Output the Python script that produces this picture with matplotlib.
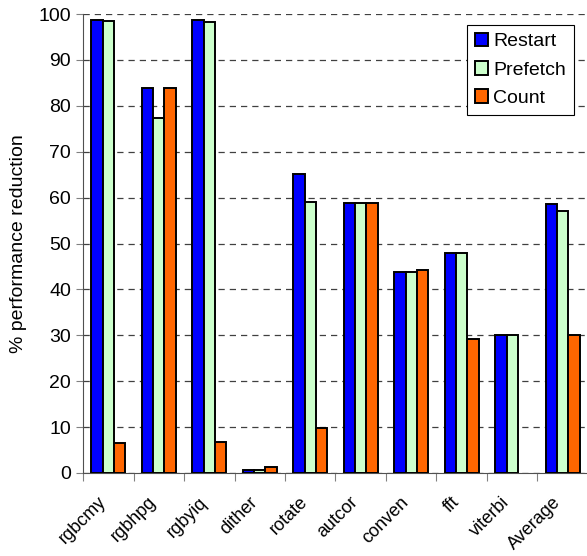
import matplotlib.pyplot as plt
import matplotlib.transforms as mtransforms
import numpy as np

plt.rcParams['font.family'] = ['Liberation Sans', 'DejaVu Sans']

categories = ["rgbcmy", "rgbhpg", "rgbyiq", "dither", "rotate",
              "autcor", "conven", "fft", "viterbi", "Average"]
restart = [98.8, 83.8, 98.8, 0.6, 65.1, 58.8, 43.8, 47.9, 30.0, 58.6]
prefetch = [98.5, 77.3, 98.3, 0.6, 59.0, 58.8, 43.8, 47.9, 30.0, 57.1]
count = [6.6, 83.8, 6.8, 1.4, 9.9, 58.8, 44.3, 29.1, np.nan, 30.0]

series = [("Restart", restart, "#0000FF"),
          ("Prefetch", prefetch, "#CCFFCC"),
          ("Count", count, "#FF6600")]

fig = plt.figure(figsize=(5.87, 5.56), dpi=100)
ax = fig.add_axes([0.1414, 0.1493, 0.8603, 0.8255])

x = np.arange(len(categories))
w = 0.225
for i, (name, vals, col) in enumerate(series):
    ax.bar(x + (i - 1) * w, vals, w, color=col, edgecolor="black",
           linewidth=1.4, label=name, zorder=3)

ax.set_xlim(-0.5, len(categories) - 0.5)
ax.set_ylim(0, 100)
ax.set_yticks(range(0, 101, 10))
ax.set_xticks(np.arange(len(categories) + 1) - 0.5)
ax.set_xticklabels([])
ax.set_xticks(x, minor=True)
ax.set_xticklabels(categories, minor=True, rotation=45, ha="right",
                   rotation_mode="anchor", fontsize=13)
ax.tick_params(axis="x", which="minor", length=0, pad=12)
ax.tick_params(axis="x", which="major", length=6, color="#808080")
ax.tick_params(axis="y", length=5, labelsize=14, color="#808080")

# shift the rotated labels a bit left and down, like the original
offset = mtransforms.ScaledTranslation(-11 / 100, -4 / 100, fig.dpi_scale_trans)
for lab in ax.get_xticklabels(minor=True):
    lab.set_transform(lab.get_transform() + offset)

ax.grid(axis="y", color="#404040", linestyle=(0, (5, 4)), linewidth=0.9,
        zorder=0)
ax.spines["top"].set_visible(False)
ax.spines["right"].set_visible(False)
ax.spines["left"].set_color("#505050")
ax.spines["bottom"].set_color("#505050")
ax.set_ylabel("% performance reduction", fontsize=14, labelpad=8)

leg = ax.legend(loc="upper right", bbox_to_anchor=(0.972, 0.976),
                fontsize=14, handlelength=0.7, handleheight=0.7,
                handletextpad=0.25, labelspacing=0.55, borderpad=0.4,
                borderaxespad=0, fancybox=False, framealpha=1,
                edgecolor="black")
leg.get_frame().set_linewidth(0.8)

fig.savefig("out.png", dpi=100)
